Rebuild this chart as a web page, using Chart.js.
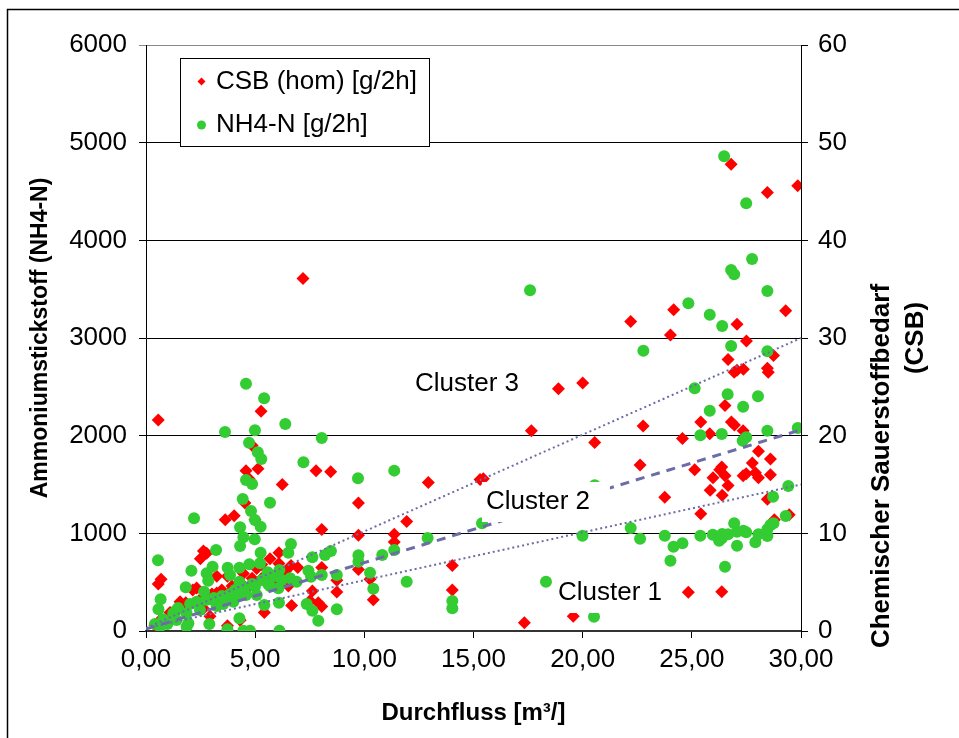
<!doctype html>
<html>
  <head>
    <script src="https://cdnjs.cloudflare.com/ajax/libs/Chart.js/4.4.1/chart.umd.min.js"></script>
    <style>
      body { margin: 0; background: #fff; }
    </style>
    <script>
      // CSB (hom) [g/2h] - right axis (Chemischer Sauerstoffbedarf)
      let csbFlow = [
        26.80, 28.46, 29.85, 22.20, 24.17, 29.30, 24.02, 27.07, 27.50, 26.66,
        28.74, 26.94, 27.07, 27.36, 28.46, 28.50, 26.52, 25.41, 26.81, 26.95,
        22.77, 25.82, 27.35, 20.55, 24.57, 28.05, 28.60, 22.63, 25.13, 27.77,
        26.37, 26.28, 26.52, 25.97, 27.35, 27.49, 27.91, 28.05, 28.60, 26.66,
        25.84, 26.39, 23.76, 28.46, 25.41, 29.46, 28.78, 24.84, 26.37,
        18.89, 20.00, 17.65, 12.93, 15.30, 15.45, 11.94, 11.37, 11.37, 14.03,
        14.03, 10.41, 17.33, 19.57, 7.19,
        0.56, 5.27, 4.86, 4.58, 5.13, 7.79, 8.46, 6.24, 4.72,
        4.53, 3.63, 4.04, 4.99, 2.63, 2.78, 2.49, 0.69, 0.56, 3.24,
        3.73, 4.46, 5.07, 5.30, 2.14, 2.32, 1.82, 3.24, 2.93, 3.85,
        4.15, 4.38, 4.76, 3.47, 2.93, 3.73, 4.31, 2.63, 3.54,
        9.73, 8.05, 9.73, 6.09, 5.68, 6.09, 6.64, 6.95, 8.05, 9.73,
        5.68, 6.37, 8.74, 10.26, 5.27, 5.91, 6.52, 7.62, 8.74, 6.67,
        7.89, 8.05, 7.51, 5.42,
        2.47, 3.02, 3.94, 4.31, 4.86, 5.41, 1.56, 1.10, 0.41, 0.64
      ];
      let csbValues = [
        47.8, 44.9, 45.6, 31.7, 32.9, 32.8, 30.3, 31.4, 29.7, 27.8,
        28.2, 26.5, 26.7, 26.8, 26.9, 26.5, 23.1, 21.4, 21.4, 21.1,
        21.0, 20.2, 20.5, 19.3, 19.7, 18.4, 17.6, 17.0, 16.5, 17.2,
        16.8, 16.5, 15.9, 15.7, 15.9, 16.1, 16.2, 15.7, 16.0, 14.9,
        14.4, 13.9, 13.7, 13.5, 12.0, 11.9, 11.4, 3.96, 4.03,
        24.8, 25.4, 20.5, 15.2, 15.5, 15.6, 11.2, 9.9, 9.1, 6.7,
        4.2, 3.2, 0.85, 1.5, 36.1,
        21.6, 22.5, 19.0, 16.4, 16.6, 16.4, 16.3, 15.0, 15.6,
        13.1, 11.4, 11.8, 11.4, 8.2, 7.96, 7.4, 5.3, 4.8, 5.6,
        5.6, 5.9, 6.4, 6.8, 4.2, 4.4, 2.9, 3.9, 3.6, 4.0,
        4.4, 4.5, 4.6, 4.2, 1.5, 0.55, 1.1, 2.3, 3.2,
        13.1, 10.4, 9.8, 8.0, 7.4, 6.9, 6.7, 6.5, 6.5, 6.3,
        5.9, 6.1, 5.2, 5.3, 5.3, 5.2, 4.6, 4.1, 4.0, 2.6,
        2.9, 2.5, 3.1, 1.9,
        3.2, 3.8, 4.6, 5.0, 5.4, 5.6, 3.0, 1.9, 0.6, 1.1
      ];

      // NH4-N [g/2h] - left axis (Ammoniumstickstoff)
      let nh4Flow = [
        26.48, 27.49, 27.76, 26.80, 26.94, 28.46, 24.84, 25.82, 26.39, 22.78,
        26.80, 28.46, 25.13, 26.64, 28.03, 25.82, 27.35, 25.39, 26.37, 28.46,
        29.85, 27.49, 27.33, 20.55, 29.42, 28.72, 22.20, 22.63, 23.76, 24.16,
        24.57, 24.02, 25.39, 25.96, 26.39, 26.25, 26.37, 26.66, 26.94, 27.07,
        27.07, 27.36, 27.49, 27.91, 28.05, 28.46, 28.46, 28.60, 28.74, 29.30,
        26.52, 20.52,
        17.59, 11.37, 15.39, 12.90, 10.82, 11.37, 10.26, 10.41, 11.94, 14.03,
        14.03, 18.32, 19.99,
        4.58, 5.41, 6.38, 3.62, 4.99, 8.05, 4.72, 5.12, 5.28, 7.21,
        9.71, 4.58, 4.86,
        2.20, 4.43, 4.81, 4.99, 5.25, 4.31, 4.98, 4.31, 4.46, 3.21,
        5.25, 0.55, 2.08, 3.05, 2.78, 2.85, 3.74, 4.28, 4.73, 5.22,
        3.85, 4.28, 1.82, 2.66, 0.67, 0.57, 1.37, 2.32, 3.08, 3.77,
        4.23, 4.99, 5.07, 1.86, 2.47, 0.41, 0.79, 0.98, 1.40, 1.86,
        1.94, 2.90, 3.73, 4.28, 4.46, 4.76, 3.24, 3.54, 4.00, 4.58,
        1.25, 0.64,
        5.68, 6.64, 6.52, 7.62, 8.20, 8.47, 9.73, 9.73, 5.57, 6.11,
        7.44, 7.56, 8.05, 8.74, 6.60, 6.90, 6.22, 5.68, 6.06, 5.42,
        6.09, 7.36, 7.62, 7.89, 8.74, 6.11,
        2.75, 3.11, 3.48, 3.85, 4.08, 4.49, 4.86, 5.31, 5.59, 5.91,
        1.47, 2.02
      ];
      let nh4Values = [
        4861, 4380, 3809, 3697, 3653, 3481, 3355, 3239, 3123, 2870,
        2918, 2864, 2485, 2424, 2403, 2256, 2297, 2004, 2017, 2051,
        2079, 1983, 1949, 1492, 1485, 1375, 1055, 945, 976, 863,
        898, 720, 976, 986, 993, 925, 949, 990, 1103, 1017,
        873, 1027, 1010, 908, 990, 973, 1041, 1085, 1103, 1178,
        659, 146,
        3490, 1642, 1103, 952, 778, 829, 597, 433, 505, 307,
        232, 505, 976,
        2532, 2383, 2120, 2038, 2055, 1976, 1928, 1830, 1761, 1727,
        1564, 1546, 1505,
        1154, 1352, 1229, 1137, 1068, 1062, 939, 870, 959, 829,
        802, 724, 618, 659, 591, 515, 648, 648, 683, 693,
        573, 505, 447, 403, 325, 222, 208, 300, 317, 335,
        358, 454, 369, 181, 215, 72, 120, 72, 113, 44,
        79, 72, 17, 130, 3, 3, 256, 276, 300, 369,
        181, 44,
        1314, 891, 802, 755, 778, 819, 775, 710, 601, 625,
        618, 556, 573, 573, 539, 505, 522, 461, 437, 266,
        290, 276, 208, 106, 222, 3,
        317, 338, 358, 379, 420, 440, 481, 522, 481, 563,
        236, 276
      ];

      // cluster trend lines (left axis units)
      let trendFlow = [0, 30];
      let cluster1 = [30, 1500];
      let cluster2 = [20, 2060];
      let cluster3 = [30, 3000];

      let xTicks = [0, 5, 10, 15, 20, 25, 30];

      const FONT = "'Liberation Sans', Arial, sans-serif";

      function points(xs, ys) {
        return xs.map((x, i) => ({ x: x, y: ys[i] }));
      }

      const extras = {
        id: 'extras',
        beforeDraw(chart) {
          const c = chart.ctx;
          c.save();
          c.fillStyle = '#fff';
          c.fillRect(0, 0, chart.width, chart.height);
          c.strokeStyle = '#000';
          c.lineWidth = 1.5;
          c.strokeRect(7.5, 9.5, chart.width + 20, chart.height + 20);
          c.restore();
        },
        afterDatasetsDraw(chart, args, opts) {
          const c = chart.ctx;
          const xs = chart.scales.x, ys = chart.scales.y;
          c.save();
          c.font = '26px ' + FONT;
          c.textBaseline = 'middle';
          opts.labels.forEach(l => {
            const px = xs.getPixelForValue(l.x);
            const py = ys.getPixelForValue(l.y);
            c.fillStyle = '#fff';
            c.fillRect(px - 4, py - 20, 128, 40);
            c.fillStyle = '#000';
            c.fillText(l.text, px, py);
          });
          c.restore();
        },
        afterDraw(chart) {
          const c = chart.ctx;
          c.save();
          // legend
          c.fillStyle = '#fff';
          c.fillRect(180.5, 58.5, 249, 88);
          c.strokeStyle = '#000';
          c.lineWidth = 1;
          c.strokeRect(180.5, 58.5, 249, 88);
          c.fillStyle = '#FF0000';
          c.beginPath();
          c.moveTo(201.5, 77.5); c.lineTo(205.5, 81.5); c.lineTo(201.5, 85.5); c.lineTo(197.5, 81.5);
          c.closePath(); c.fill();
          c.fillStyle = '#33CC33';
          c.beginPath(); c.arc(201.5, 125, 4.5, 0, Math.PI * 2); c.fill();
          c.fillStyle = '#000';
          c.font = '26px ' + FONT;
          c.textBaseline = 'middle';
          c.fillText('CSB (hom) [g/2h]', 216, 82);
          c.fillText('NH4-N [g/2h]', 216, 125);
          // right axis title
          c.font = 'bold 26px ' + FONT;
          c.textAlign = 'center';
          c.translate(882, 466);
          c.rotate(-Math.PI / 2);
          c.fillText('Chemischer Sauerstoffbedarf', 0, 0);
          c.fillText('(CSB)', 128, 34);
          c.restore();
        }
      };

      let chart1;
      function startPage() {
        chart1 = new Chart(document.getElementById('c1'), {
          type: 'scatter',
          data: {
            datasets: [
              { label: 'Cluster 1', data: points(trendFlow, cluster1), showLine: true, pointRadius: 0,
                borderColor: '#6C6CA6', borderWidth: 2, borderDash: [2, 3], yAxisID: 'y', order: 0 },
              { label: 'Cluster 2', data: points(trendFlow, cluster2), showLine: true, pointRadius: 0,
                borderColor: '#6C6CA6', borderWidth: 3, borderDash: [9, 7], yAxisID: 'y', order: 0 },
              { label: 'Cluster 3', data: points(trendFlow, cluster3), showLine: true, pointRadius: 0,
                borderColor: '#6C6CA6', borderWidth: 2, borderDash: [2, 3], yAxisID: 'y', order: 0 },
              { label: 'NH4-N [g/2h]', data: points(nh4Flow, nh4Values), yAxisID: 'y',
                pointStyle: 'circle', pointRadius: 6, backgroundColor: '#33CC33', borderColor: '#33CC33', borderWidth: 0, order: 1 },
              { label: 'CSB (hom) [g/2h]', data: points(csbFlow, csbValues), yAxisID: 'y2',
                pointStyle: 'rectRot', pointRadius: 6.5, backgroundColor: '#FF0000', borderColor: '#FF0000', borderWidth: 0, order: 2 }
            ]
          },
          options: {
            responsive: false,
            animation: false,
            layout: { padding: { top: 45 } },
            plugins: {
              legend: { display: false },
              tooltip: { enabled: false },
              extras: {
                labels: [
                  { text: 'Cluster 3', x: 12.32, y: 2529 },
                  { text: 'Cluster 2', x: 15.57, y: 1321 },
                  { text: 'Cluster 1', x: 18.87, y: 389 }
                ]
              }
            },
            scales: {
              x: {
                type: 'linear', min: 0, max: 30,
                afterBuildTicks: s => { s.ticks = xTicks.map(v => ({ value: v })); },
                afterFit: s => { s.height = 107; },
                grid: { drawOnChartArea: false, color: '#000', tickLength: 7 },
                border: { color: '#333', width: 2 },
                ticks: { color: '#000', font: { family: FONT, size: 26 }, padding: 6,
                  callback: v => v.toFixed(2).replace('.', ',') },
                title: { display: true, text: 'Durchfluss [m³/]', color: '#000',
                  font: { family: FONT, size: 24, weight: 'bold' }, padding: { top: 0, bottom: 10 } }
              },
              y: {
                position: 'left', min: 0, max: 6000,
                ticks: { stepSize: 1000, color: '#000', font: { family: FONT, size: 26 }, padding: 12,
                  callback: v => String(v) },
                afterFit: s => { s.width = 146; },
                grid: { color: c => c.tick.value === 6000 ? '#888' : '#000', tickLength: 7 },
                border: { color: '#000', width: 1 },
                title: { display: true, text: 'Ammoniumstickstoff (NH4-N)', color: '#000',
                  font: { family: FONT, size: 23, weight: 'bold' }, padding: { top: 27, bottom: 0 } }
              },
              y2: {
                position: 'right', min: 0, max: 60,
                ticks: { stepSize: 10, color: '#000', font: { family: FONT, size: 26 }, padding: 10 },
                afterFit: s => { s.width = 158; },
                grid: { drawOnChartArea: false, color: '#000', tickLength: 7 },
                border: { color: '#000', width: 1 }
              }
            }
          },
          plugins: [extras]
        });
      }
    </script>
  </head>
  <body onload="startPage()">
    <canvas id="c1" width="959" height="738"></canvas>
  </body>
</html>
